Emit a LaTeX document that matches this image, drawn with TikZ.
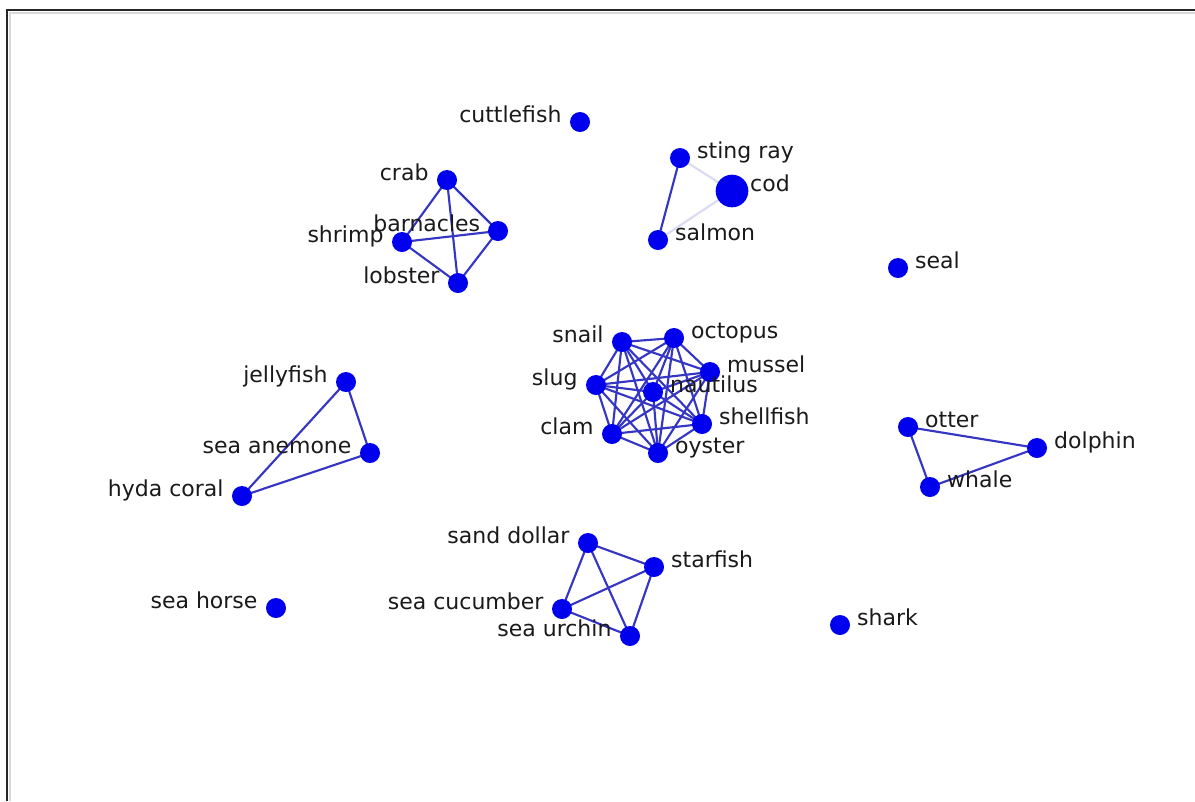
\documentclass[tikz,border=0pt]{standalone}
\usepackage{fontspec}
\setmainfont{DejaVu Sans}
\usetikzlibrary{backgrounds}
\definecolor{nodeblue}{HTML}{0000EE}
\definecolor{edgeblue}{HTML}{3636C4}
\definecolor{faintedge}{HTML}{DADAF2}
\definecolor{txt}{HTML}{1A1A1A}
\tikzset{
  vert/.style={circle,fill=nodeblue,draw=none,inner sep=0pt,minimum size=15pt},
  bigvert/.style={vert,minimum size=24.5pt},
  lbl/.style={font=\fontsize{16.5}{18}\selectfont,text=txt,inner sep=0pt},
  R/.style={label={[lbl,anchor=base west,label distance=5pt]0:#1}},
  L/.style={label={[lbl,anchor=base east,label distance=6pt]180:#1}},
  edge/.style={draw=edgeblue,line width=1.6pt},
  fedge/.style={draw=faintedge,line width=1.6pt},
}
\begin{document}
\begin{tikzpicture}[x=0.75pt,y=-0.75pt]
\useasboundingbox (0,0) rectangle (1195,801);

% nodes
\node[vert,L=cuttlefish] (cuttlefish) at (580,122) {};
\node[vert,R=sting ray] (stingray) at (680,158) {};
\node[bigvert,label={[lbl,anchor=base west,label distance=1pt]0:cod}] (cod) at (732,191) {};
\node[vert,R=salmon] (salmon) at (658,240) {};
\node[vert,R=seal] (seal) at (898,268) {};

\node[vert,L=crab] (crab) at (447,180) {};
\node[vert,label={[lbl,anchor=base east,label distance=5.5pt]180:barnacles}] (barnacles) at (498,231) {};
\node[vert,L=shrimp] (shrimp) at (402,242) {};
\node[vert,L=lobster] (lobster) at (458,283) {};

\node[vert,L=snail] (snail) at (622,342) {};
\node[vert,R=octopus] (octopus) at (674,338) {};
\node[vert,R=mussel] (mussel) at (710,372) {};
\node[vert,L=slug] (slug) at (596,385) {};
\node[vert,R=nautilus] (nautilus) at (653,392) {};
\node[vert,R=shellfish] (shellfish) at (702,424) {};
\node[vert,L=clam] (clam) at (612,434) {};
\node[vert,R=oyster] (oyster) at (658,453) {};

\node[vert,L=jellyfish] (jellyfish) at (346,382) {};
\node[vert,L=sea anemone] (seaanemone) at (370,453) {};
\node[vert,L=hyda coral] (hydacoral) at (242,496) {};

\node[vert,R=otter] (otter) at (908,427) {};
\node[vert,R=dolphin] (dolphin) at (1037,448) {};
\node[vert,R=whale] (whale) at (930,487) {};

\node[vert,L=sand dollar] (sanddollar) at (588,543) {};
\node[vert,R=starfish] (starfish) at (654,567) {};
\node[vert,L=sea cucumber] (seacucumber) at (562,609) {};
\node[vert,L=sea urchin] (seaurchin) at (630,636) {};

\node[vert,L=sea horse] (seahorse) at (276,608) {};
\node[vert,R=shark] (shark) at (840,625) {};

\begin{scope}[on background layer]
  \fill[white] (0,0) rectangle (1195,801);
  % frame
  \draw[black!15,line width=1.2pt] (10,801) -- (10,13) -- (1195,13);
  \draw[black!85,line width=2pt] (7,801) -- (7,10) -- (1195,10);
  % cod group
  \draw[fedge] (stingray.center) -- (cod.center);
  \draw[fedge] (salmon.center) -- (cod.center);
  \draw[edge] (stingray.center) -- (salmon.center);
  % crustaceans
  \foreach \a/\b in {crab/barnacles,crab/shrimp,crab/lobster,shrimp/barnacles,shrimp/lobster,lobster/barnacles}
    \draw[edge] (\a.center) -- (\b.center);
  % molluscs (complete graph)
  \foreach \a [count=\i] in {snail,octopus,mussel,slug,nautilus,shellfish,clam,oyster}
    \foreach \b [count=\j] in {snail,octopus,mussel,slug,nautilus,shellfish,clam,oyster}
      {\ifnum\j>\i \draw[edge] (\a.center) -- (\b.center);\fi}
  % cnidarians
  \foreach \a/\b in {jellyfish/seaanemone,jellyfish/hydacoral,seaanemone/hydacoral}
    \draw[edge] (\a.center) -- (\b.center);
  % mammals
  \foreach \a/\b in {otter/dolphin,otter/whale,whale/dolphin}
    \draw[edge] (\a.center) -- (\b.center);
  % echinoderms
  \foreach \a/\b in {sanddollar/starfish,sanddollar/seacucumber,sanddollar/seaurchin,starfish/seacucumber,starfish/seaurchin,seacucumber/seaurchin}
    \draw[edge] (\a.center) -- (\b.center);
\end{scope}
\end{tikzpicture}
\end{document}
